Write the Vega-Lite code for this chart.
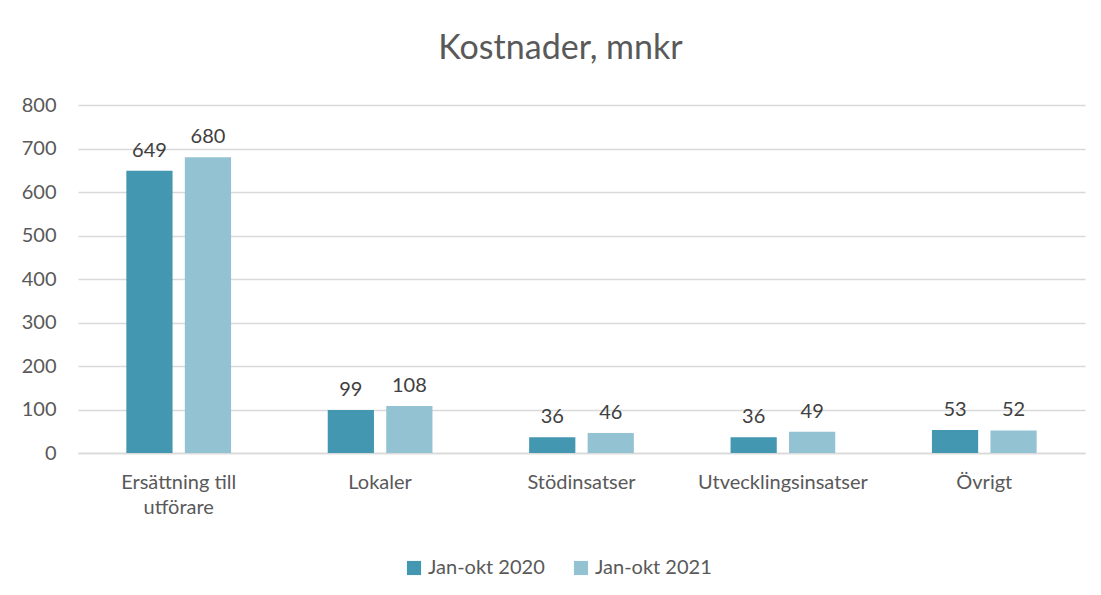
{
  "$schema": "https://vega.github.io/schema/vega-lite/v6.json",
  "autosize": {"type": "none"},
  "padding": {"left": 78, "top": 105, "right": 16, "bottom": 142},
  "width": 1007,
  "height": 348,
  "background": "white",
  "config": {"view": {"stroke": null}},
  "title": {
    "text": "Kostnader, mnkr",
    "font": "Lato",
    "fontSize": 34,
    "fontWeight": "normal",
    "color": "#595959",
    "anchor": "middle",
    "dx": -21,
    "offset": 29
  },
  "data": {
    "values": [
      {"kategori": "Ersättning till utförare", "period": "Jan-okt 2020", "varde": 649},
      {"kategori": "Ersättning till utförare", "period": "Jan-okt 2021", "varde": 680},
      {"kategori": "Lokaler", "period": "Jan-okt 2020", "varde": 99},
      {"kategori": "Lokaler", "period": "Jan-okt 2021", "varde": 108},
      {"kategori": "Stödinsatser", "period": "Jan-okt 2020", "varde": 36},
      {"kategori": "Stödinsatser", "period": "Jan-okt 2021", "varde": 46},
      {"kategori": "Utvecklingsinsatser", "period": "Jan-okt 2020", "varde": 36},
      {"kategori": "Utvecklingsinsatser", "period": "Jan-okt 2021", "varde": 49},
      {"kategori": "Övrigt", "period": "Jan-okt 2020", "varde": 53},
      {"kategori": "Övrigt", "period": "Jan-okt 2021", "varde": 52}
    ]
  },
  "encoding": {
    "x": {
      "field": "kategori",
      "type": "nominal",
      "sort": null,
      "scale": {"paddingInner": 0.48, "paddingOuter": 0.24},
      "axis": {
        "title": null,
        "labelAngle": 0,
        "labelFont": "Lato",
        "labelFontSize": 20,
        "labelColor": "#595959",
        "labelPadding": 19,
        "labelLineHeight": 25,
        "labelExpr": "datum.value == 'Ersättning till utförare' ? ['Ersättning till', 'utförare'] : datum.value",
        "ticks": false,
        "domain": true,
        "domainColor": "#D9D9D9",
        "domainWidth": 1.5
      }
    },
    "xOffset": {
      "field": "period",
      "type": "nominal",
      "scale": {"paddingInner": 0.21, "paddingOuter": 0}
    },
    "y": {
      "field": "varde",
      "type": "quantitative",
      "scale": {"domain": [0, 800], "nice": false},
      "axis": {
        "title": null,
        "values": [0, 100, 200, 300, 400, 500, 600, 700, 800],
        "labelOverlap": false,
        "labelFont": "Lato",
        "labelFontSize": 20,
        "labelColor": "#595959",
        "labelPadding": 22,
        "ticks": false,
        "domain": false,
        "grid": true,
        "gridColor": "#D9D9D9",
        "gridWidth": 1.5
      }
    }
  },
  "layer": [
    {
      "mark": {"type": "bar"},
      "encoding": {
        "color": {
          "field": "period",
          "type": "nominal",
          "scale": {"domain": ["Jan-okt 2020", "Jan-okt 2021"], "range": ["#4397B0", "#93C3D3"]},
          "legend": {
            "title": null,
            "orient": "none",
            "direction": "horizontal",
            "legendX": 326,
            "legendY": 453,
            "symbolType": "square",
            "symbolSize": 200,
            "symbolStrokeWidth": 0,
            "labelFont": "Lato",
            "labelFontSize": 20,
            "labelColor": "#595959",
            "labelOffset": 4,
            "columnPadding": 26
          }
        }
      }
    },
    {
      "mark": {"type": "text", "baseline": "bottom", "dy": -10, "font": "Lato", "fontSize": 20, "color": "#404040"},
      "encoding": {
        "text": {"field": "varde", "type": "quantitative"}
      }
    }
  ]
}
